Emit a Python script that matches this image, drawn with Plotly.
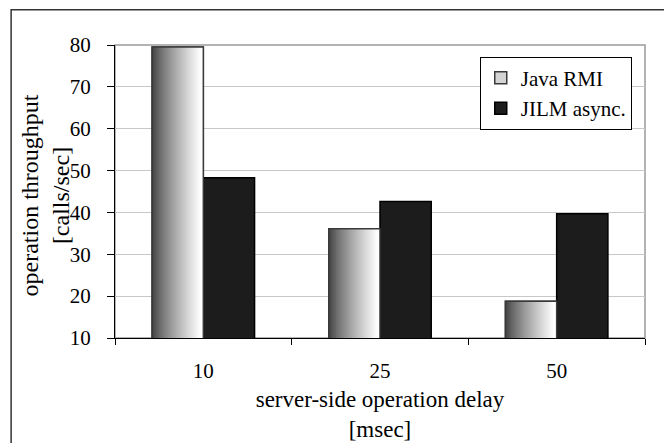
import plotly.graph_objects as go

# ---- data ----
categories = ["10", "25", "50"]
java_rmi = [79.5, 36.1, 18.8]
jilm_async = [48.3, 42.6, 39.7]
series_names = ["Java RMI", "JILM async."]
y_ticks = [10, 20, 30, 40, 50, 60, 70, 80]
x_title = "server-side operation delay<br>[msec]"
y_title = "operation throughput<br>[calls/sec]"

FONT = "Liberation Serif, serif"
BAR_W = 0.29
N_SLICES = 28


def grad_color(f):
    v = int(round(62 + 193 * min(1.0, f / 0.95) ** 0.8))
    v = max(0, min(255, v))
    return f"rgb({v},{v},{v})"


fig = go.Figure()

# legend/base trace for Java RMI (covered by gradient slices)
fig.add_trace(go.Bar(
    x=categories, y=java_rmi, name=series_names[0],
    width=BAR_W, offset=-BAR_W,
    marker=dict(color="#d4d4d4", line=dict(color="#3a3a3a", width=1.5)),
))
fig.add_trace(go.Bar(
    x=categories, y=jilm_async, name=series_names[1],
    width=BAR_W, offset=0,
    marker=dict(color="#1c1c1c", line=dict(color="#000000", width=1.5)),
))
# gradient slices for Java RMI bars
for i in range(N_SLICES):
    start = -BAR_W + i * BAR_W / N_SLICES
    w = BAR_W - i * BAR_W / N_SLICES
    fig.add_trace(go.Bar(
        x=categories, y=java_rmi, width=w, offset=start,
        marker=dict(color=grad_color((i + 0.5) / N_SLICES), line=dict(width=0)),
        showlegend=False, hoverinfo="skip",
    ))
# outline for Java RMI bars
fig.add_trace(go.Bar(
    x=categories, y=java_rmi, width=BAR_W, offset=-BAR_W,
    marker=dict(color="rgba(0,0,0,0)", line=dict(color="#3a3a3a", width=1.5)),
    showlegend=False, hoverinfo="skip",
))

fig.update_layout(
    width=672, height=443,
    margin=dict(l=107, r=35, t=37, b=113),
    paper_bgcolor="white", plot_bgcolor="white",
    barmode="overlay",
    font=dict(family=FONT, color="black", size=20),
    legend=dict(
        x=0.975, xanchor="right", y=0.96, yanchor="top",
        bordercolor="black", borderwidth=1, bgcolor="white",
        font=dict(family=FONT, size=21, color="black"),
        traceorder="normal", itemwidth=30,
    ),
    xaxis=dict(
        type="category", range=[-0.5, 2.5],
        tickson="boundaries", ticks="outside", ticklen=6, tickcolor="black",
        showline=True, linecolor="black", linewidth=1, showgrid=False,
        tickfont=dict(family=FONT, size=21), ticklabelstandoff=14,
        title=dict(text=x_title, font=dict(family=FONT, size=23), standoff=8),
    ),
    yaxis=dict(
        range=[10, 80], tickvals=y_ticks,
        ticks="outside", ticklen=7, tickcolor="black",
        showline=True, linecolor="black", linewidth=1,
        gridcolor="#c8c8c8", gridwidth=1, zeroline=False,
        tickfont=dict(family=FONT, size=21), ticklabelstandoff=12,
    ),
    annotations=[
        dict(text=y_title, xref="paper", yref="paper", x=-0.131, y=0.485,
             xanchor="center", yanchor="middle", textangle=-90, showarrow=False,
             font=dict(family=FONT, size=24, color="black")),
    ],
    shapes=[
        dict(type="rect", xref="paper", yref="paper", x0=0, x1=1, y0=0, y1=1,
             line=dict(color="#9a9a9a", width=1.5), layer="below"),
        dict(type="rect", xref="paper", yref="paper",
             x0=-0.196, x1=1.08, y0=-0.40, y1=1.1205,
             line=dict(color="#333333", width=1.5), fillcolor="rgba(0,0,0,0)"),
    ],
)

fig.write_html("out.html")
